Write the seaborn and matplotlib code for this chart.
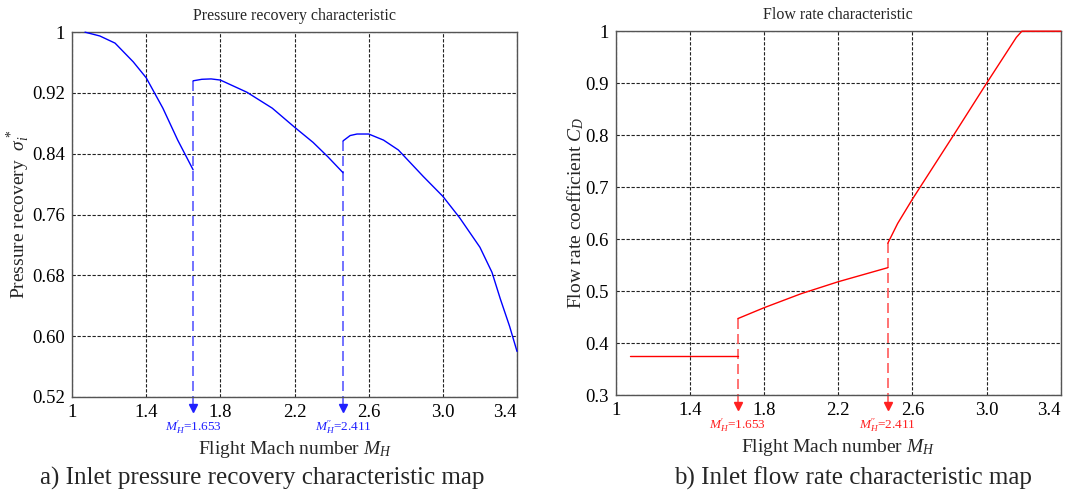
import matplotlib
matplotlib.use('Agg')
import matplotlib.pyplot as plt
import seaborn as sns

# pressure recovery curve, three branches
pr_x1 = [1.07, 1.15, 1.232, 1.33, 1.40, 1.49, 1.57, 1.653]
pr_y1 = [1.0, 0.995, 0.9856, 0.961, 0.940, 0.900, 0.858, 0.819]
pr_x2 = [1.653, 1.70, 1.75, 1.80, 1.943, 2.08, 2.20, 2.30, 2.38, 2.462]
pr_y2 = [0.936, 0.938, 0.9385, 0.937, 0.921, 0.900, 0.875, 0.855, 0.836, 0.815]
pr_x3 = [2.462, 2.50, 2.537, 2.60, 2.68, 2.76, 2.895, 3.0, 3.09, 3.2, 3.265, 3.31, 3.36, 3.4]
pr_y3 = [0.857, 0.864, 0.866, 0.866, 0.858, 0.845, 0.810, 0.784, 0.756, 0.717, 0.684, 0.649, 0.613, 0.580]

# flow rate coefficient curve
cd_x1 = [1.075, 1.658]
cd_y1 = [0.375, 0.375]
cd_x2 = [1.658, 1.8, 2.0, 2.2, 2.467]
cd_y2 = [0.447, 0.468, 0.495, 0.518, 0.545]
cd_x3 = [2.467, 2.52, 2.6, 2.829, 3.0, 3.16, 3.19, 3.4]
cd_y3 = [0.592, 0.630, 0.677, 0.804, 0.900, 0.988, 1.0, 1.0]

# switching Mach numbers: where the jump is drawn, upper value, label text
pr_jump_x = [1.653, 2.462]
pr_jump_top = [0.936, 0.857]
cd_jump_x = [1.658, 2.467]
cd_jump_top = [0.447, 0.592]
jump_labels = [r"$M_H^{\prime}$=1.653", r"$M_H^{\prime\prime}$=2.411"]

x_ticks = [1.0, 1.4, 1.8, 2.2, 2.6, 3.0, 3.4]
x_tick_labels = ['1', '1.4', '1.8', '2.2', '2.6', '3.0', '3.4']
pr_ticks = [0.52, 0.60, 0.68, 0.76, 0.84, 0.92, 1.0]
pr_tick_labels = ['0.52', '0.60', '0.68', '0.76', '0.84', '0.92', '1']
cd_ticks = [0.3, 0.4, 0.5, 0.6, 0.7, 0.8, 0.9, 1.0]
cd_tick_labels = ['0.3', '0.4', '0.5', '0.6', '0.7', '0.8', '0.9', '1']

sns.set_theme(style='whitegrid')
plt.rcParams['font.family'] = ['Liberation Serif', 'DejaVu Serif']
plt.rcParams['mathtext.fontset'] = 'custom'
plt.rcParams['mathtext.rm'] = 'Liberation Serif'
plt.rcParams['mathtext.it'] = 'Liberation Serif:italic'

fig = plt.figure(figsize=(10.88, 4.95), dpi=100)
ax1 = fig.add_axes([0.0662, 0.198, 0.409, 0.737])
ax2 = fig.add_axes([0.566, 0.202, 0.409, 0.735])


def style_axes(ax, yticks, ylabels):
    ax.set_facecolor('white')
    ax.set_xlim(1.0, 3.4)
    ax.set_ylim(yticks[0], yticks[-1])
    ax.set_xticks(x_ticks)
    ax.set_xticklabels(x_tick_labels)
    ax.set_yticks(yticks)
    ax.set_yticklabels(ylabels)
    ax.get_xticklabels()[-1].set_ha('right')
    ax.tick_params(length=0, labelsize=13.5, pad=5, colors='black')
    ax.grid(True, color='#222222', linestyle=(0, (3, 1.5)), linewidth=0.8)
    for s in ax.spines.values():
        s.set_color('#555555')
        s.set_linewidth(1.0)


def jump_arrows(ax, xs, tops, labels, line_col, text_col):
    y0, y1 = ax.get_ylim()
    span = y1 - y0
    for x, top, lab in zip(xs, tops, labels):
        ax.plot([x, x], [top, y0 - 0.022 * span], color=line_col, lw=1.2,
                linestyle=(0, (6, 3)), clip_on=False)
        ax.plot([x], [y0 - 0.029 * span], marker='v', color=text_col,
                markersize=6, clip_on=False, linestyle='none')
        ax.text(x, y0 - 0.084 * span, lab, color=text_col, fontsize=9.5,
                ha='center', va='center', clip_on=False)


# a) pressure recovery
for xs, ys in [(pr_x1, pr_y1), (pr_x2, pr_y2), (pr_x3, pr_y3)]:
    sns.lineplot(x=xs, y=ys, ax=ax1, color='#0000ff', lw=1.0,
                 estimator=None, sort=False, clip_on=False, zorder=5)
style_axes(ax1, pr_ticks, pr_tick_labels)
jump_arrows(ax1, pr_jump_x, pr_jump_top, jump_labels, '#5a5aff', '#2020ff')
ax1.set_title('Pressure recovery characteristic', fontsize=11.5, pad=9)
ax1.set_ylabel(r'Pressure recovery  $\sigma_i^*$', fontsize=14)
ax1.yaxis.set_label_coords(-0.090, 0.5)
ax1.set_xlabel(r'Flight Mach number $M_H$', fontsize=14)
ax1.xaxis.set_label_coords(0.5, -0.116)

# b) flow rate coefficient
for xs, ys in [(cd_x1, cd_y1), (cd_x2, cd_y2), (cd_x3, cd_y3)]:
    sns.lineplot(x=xs, y=ys, ax=ax2, color='#ff0000', lw=1.0,
                 estimator=None, sort=False, clip_on=False, zorder=5)
style_axes(ax2, cd_ticks, cd_tick_labels)
jump_arrows(ax2, cd_jump_x, cd_jump_top, jump_labels, '#ff5a5a', '#ff2020')
ax2.set_title('Flow rate characteristic', fontsize=11.5, pad=9)
ax2.set_ylabel(r'Flow rate coefficient $C_D$', fontsize=14)
ax2.yaxis.set_label_coords(-0.067, 0.5)
ax2.set_xlabel(r'Flight Mach number $M_H$', fontsize=14)
ax2.xaxis.set_label_coords(0.5, -0.116)

fig.text(0.241, 0.034, 'a) Inlet pressure recovery characteristic map',
         fontsize=18, ha='center', va='center')
fig.text(0.784, 0.034, 'b) Inlet flow rate characteristic map',
         fontsize=18, ha='center', va='center')

fig.savefig('out.png', dpi=100)
